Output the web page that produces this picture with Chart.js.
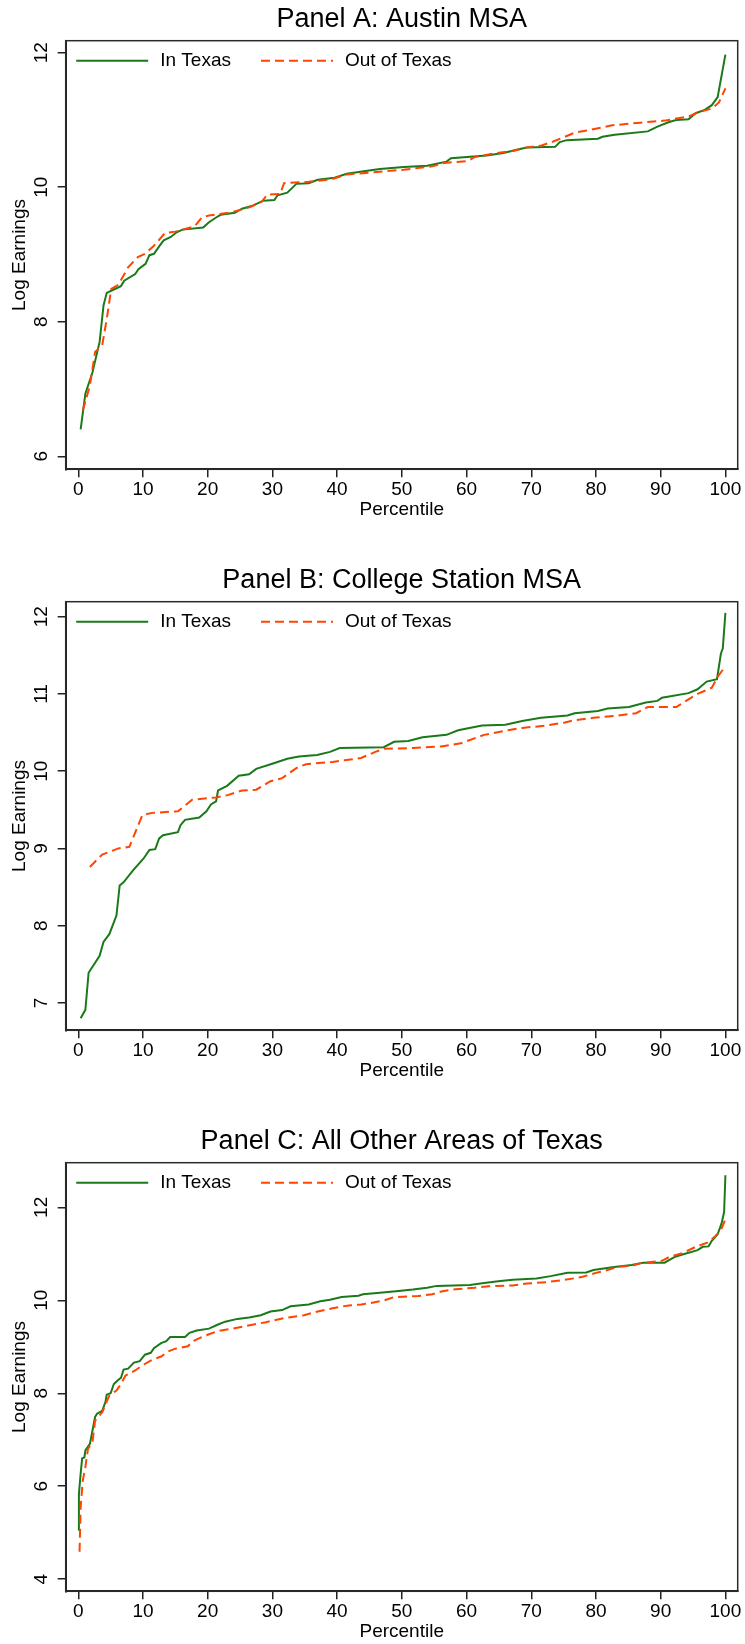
<!DOCTYPE html>
<html>
<head>
<meta charset="utf-8">
<script src="https://cdn.jsdelivr.net/npm/chart.js@4.4.1/dist/chart.umd.min.js"></script>
<style>
  body { margin: 0; background: #fff; width: 745px; height: 1644px; position: relative; overflow: hidden; }
  .panel { position: absolute; left: 0; width: 745px; height: 521px; }
</style>
</head>
<body>
<div class="panel" style="top:0px"><canvas id="chartA"></canvas></div>
<div class="panel" style="top:561px"><canvas id="chartB"></canvas></div>
<div class="panel" style="top:1122px"><canvas id="chartC"></canvas></div>
<script>
/* DATA */
const seriesLabels = ["In Texas", "Out of Texas"];
const xTicks = [0, 10, 20, 30, 40, 50, 60, 70, 80, 90, 100];

// Panel A: Austin MSA
const pctAIn = [0.37,1.1,2.2,3.3,3.9,4.4,5.5,6.6,7.1,8.8,9.3,10.4,11,11.7,12.5,13.2,14.3,15.2,16.1,19.3,20.2,21.3,22,24.2,25.3,26.8,28.6,30.3,30.8,32.3,33.7,35.6,37,39.6,41.5,44.4,46.6,50.3,53.9,56.9,57.6,63.1,65.7,67.9,69.3,73.7,74.4,75.5,80.3,81,82.9,88,89.5,91.3,92.4,94.3,95.4,96.8,97.9,98.8,100];
const earnAIn = [6.40,6.93,7.25,7.70,8.24,8.43,8.48,8.53,8.61,8.71,8.78,8.86,8.99,9.01,9.12,9.21,9.26,9.33,9.37,9.40,9.48,9.55,9.59,9.62,9.68,9.72,9.80,9.81,9.88,9.92,10.05,10.06,10.11,10.14,10.20,10.24,10.27,10.30,10.32,10.38,10.43,10.47,10.51,10.56,10.59,10.60,10.67,10.70,10.72,10.75,10.78,10.83,10.90,10.97,11.00,11.01,11.10,11.15,11.22,11.34,11.97];
const pctAOut = [0.7,1.8,2.6,3.7,4.4,5.1,6.2,7.7,9.2,10.3,11.7,13.4,15,16.5,18,19.1,20.2,23.8,26.4,28.3,29.2,31.2,31.8,35.6,39.2,41.5,46.6,50.3,54.7,56.5,60.2,61.3,64.2,67.2,69.3,71.6,73.4,75.2,76.7,78.9,82.5,86.9,90.6,94.3,95.7,97.9,99,100];
const earnAOut = [6.68,7.05,7.55,7.65,8.04,8.49,8.55,8.81,8.96,9.01,9.13,9.32,9.34,9.38,9.42,9.55,9.58,9.63,9.70,9.78,9.89,9.90,10.06,10.08,10.12,10.19,10.23,10.26,10.31,10.36,10.39,10.45,10.50,10.54,10.59,10.62,10.68,10.75,10.81,10.85,10.92,10.96,10.99,11.05,11.11,11.17,11.26,11.47];
const yTicksA = [6, 8, 10, 12];

// Panel B: College Station MSA
const pctBIn = [0.37,1.1,1.6,3.3,3.9,4.8,5.9,6.4,7.0,8.4,10.1,11,11.9,12.5,13.1,15.4,15.8,16.5,18.7,19.8,20.5,21.3,21.6,23,24.8,26.4,27.5,30.1,32.3,34.1,36.9,38.9,40.4,47.2,48.8,51,53.2,56.9,58.7,62.4,66,68.6,71.5,75.6,76.7,80.3,81.8,85.1,87.7,89.5,90.2,94.3,95.7,97.1,98.7,99.3,99.6,100];
const earnBIn = [6.80,6.91,7.39,7.61,7.79,7.89,8.13,8.52,8.56,8.71,8.87,8.98,8.99,9.13,9.17,9.21,9.30,9.37,9.40,9.48,9.57,9.61,9.75,9.81,9.94,9.96,10.03,10.10,10.16,10.19,10.21,10.25,10.30,10.31,10.38,10.39,10.44,10.47,10.53,10.59,10.60,10.65,10.69,10.72,10.75,10.78,10.81,10.83,10.89,10.91,10.95,11.01,11.06,11.16,11.19,11.52,11.59,12.05];
const pctBOut = [1.8,3.7,6.2,7.9,9.9,11.4,15.4,17.6,21.3,23.1,25.3,27.5,29.7,31.5,33.7,35.2,39.3,41.1,43.7,45.9,47.3,51.7,56.1,59.1,62.7,66.4,68.6,72.3,75.2,76.7,79.6,83.3,86.2,88,92.4,94.3,95.7,97.9,98.8,100];
const earnBOut = [8.76,8.92,9.00,9.02,9.43,9.46,9.48,9.63,9.66,9.69,9.75,9.76,9.87,9.91,10.04,10.09,10.12,10.14,10.17,10.25,10.29,10.30,10.32,10.36,10.47,10.53,10.56,10.59,10.63,10.66,10.69,10.72,10.75,10.83,10.83,10.93,11.00,11.08,11.22,11.36];
const yTicksB = [7, 8, 9, 10, 11, 12];

// Panel C: All Other Areas of Texas
const pctCIn = [0.0,0.1,0.37,0.6,0.95,1.1,1.8,2.2,2.6,2.9,3.7,4.2,4.4,5,5.5,6.2,6.6,7,7.7,8.6,9.5,10.3,11.2,11.7,12.8,13.6,14.2,16.5,17.2,18.3,20.2,21.6,22.7,24.6,26.4,28.2,29.7,31.5,32.8,35.6,37.4,38.9,40.7,43.3,44,46.6,49.5,51.7,53.9,55.4,60.5,62.7,64.9,67.1,70.8,73,75.6,78.5,79.6,82.5,85.5,87.3,90.6,92.1,93.5,95.7,96.5,97.4,97.9,98.8,99.4,99.8,100];
const earnCIn = [5.06,5.83,6.27,6.60,6.62,6.77,6.91,7.20,7.49,7.56,7.62,7.81,7.97,8.00,8.20,8.29,8.33,8.51,8.53,8.66,8.69,8.83,8.87,8.97,9.08,9.12,9.21,9.21,9.30,9.35,9.39,9.48,9.54,9.60,9.63,9.68,9.76,9.79,9.87,9.91,9.98,10.01,10.07,10.10,10.13,10.16,10.20,10.23,10.27,10.31,10.33,10.37,10.41,10.44,10.47,10.52,10.59,10.60,10.65,10.71,10.76,10.81,10.81,10.93,10.99,11.08,11.15,11.16,11.28,11.42,11.65,11.90,12.69];
const pctCOut = [0.2,0.37,0.7,1.1,1.5,2.2,2.6,3.7,4.8,5.9,6.6,7.3,8.8,9.9,11.4,12.8,13.9,15,16.9,18,19.1,20.2,21.6,23.8,26,29,31.9,34.9,37,39.3,41.8,43.7,45.2,47.3,48.8,52.5,54.7,56.1,58.3,61.3,63.4,67.1,69.3,72.3,75.2,77.8,80,81.8,83.3,85.5,86.9,90.2,91.3,93.5,95.4,97.2,98.3,99.3,100];
const earnCOut = [4.59,5.55,6.12,6.41,6.80,6.95,7.41,7.59,7.95,8.06,8.20,8.38,8.49,8.60,8.72,8.79,8.90,8.96,9.01,9.14,9.21,9.27,9.34,9.39,9.45,9.53,9.62,9.68,9.76,9.83,9.89,9.91,9.94,10.00,10.07,10.09,10.13,10.19,10.24,10.27,10.30,10.32,10.36,10.39,10.44,10.50,10.59,10.65,10.72,10.74,10.80,10.85,10.93,11.02,11.15,11.24,11.36,11.51,11.74];
const yTicksC = [4, 6, 8, 10, 12];

/* STYLE */
const GREEN = "#1a7a1a";
const ORANGE = "#ff4500";
const FONT = "'Liberation Sans', Arial, Helvetica, sans-serif";
Chart.defaults.font.family = FONT;
Chart.defaults.color = "#000";

function points(pct, earn) {
  return pct.map((p, i) => ({ x: p, y: earn[i] }));
}

/* legend drawn inside the plot region, top-left */
const insideLegend = {
  id: "insideLegend",
  afterDraw(chart) {
    const { ctx, chartArea } = chart;
    let x = chartArea.left + 10.5;
    const y = chartArea.top + 20;
    ctx.save();
    ctx.font = "19px " + FONT;
    ctx.textBaseline = "middle";
    chart.data.datasets.forEach(ds => {
      ctx.strokeStyle = ds.borderColor;
      ctx.lineWidth = ds.borderWidth;
      ctx.setLineDash(ds.borderDash || []);
      ctx.beginPath();
      ctx.moveTo(x, y);
      ctx.lineTo(x + 72, y);
      ctx.stroke();
      ctx.setLineDash([]);
      ctx.fillStyle = "#000";
      ctx.fillText(ds.label, x + 84, y);
      x += 84 + ctx.measureText(ds.label).width + 30;
    });
    ctx.restore();
  }
};

/* box round the plot region */
const frame = {
  id: "frame",
  afterDatasetsDraw(chart) {
    const { ctx, chartArea: a } = chart;
    ctx.save();
    ctx.strokeStyle = "#2a2a2a";
    ctx.lineWidth = 1.5;
    ctx.strokeRect(a.left, a.top, a.right - a.left, a.bottom - a.top);
    ctx.restore();
  }
};

/* RENDER */
function renderPanel(id, title, inPts, outPts, yMin, yMax, yTicks) {
  new Chart(document.getElementById(id), {
    type: "line",
    data: {
      datasets: [
        { label: seriesLabels[0], data: inPts, borderColor: GREEN, borderWidth: 2, pointRadius: 0, tension: 0, order: 1 },
        { label: seriesLabels[1], data: outPts, borderColor: ORANGE, borderWidth: 2, borderDash: [9, 5], pointRadius: 0, tension: 0, order: 0 }
      ]
    },
    options: {
      responsive: true,
      maintainAspectRatio: false,
      animation: false,
      layout: { padding: { left: 0, right: 7.3, top: 0, bottom: 0 } },
      plugins: {
        legend: { display: false },
        tooltip: { enabled: false },
        title: {
          display: true, text: title, fullSize: false, color: "#000",
          font: { size: 27, weight: "normal" },
          padding: { top: 3.5, bottom: 4.8 }
        }
      },
      scales: {
        x: {
          type: "linear", min: -1.94, max: 101.9,
          afterBuildTicks: s => { s.ticks = xTicks.map(v => ({ value: v })); },
          afterFit: s => { s.height = 51.7; },
          grid: { drawOnChartArea: false, drawTicks: true, tickLength: 8, color: "#222", lineWidth: 1.5 },
          border: { display: true, color: "#222", width: 2 },
          ticks: { padding: 0.6, autoSkip: false, maxRotation: 0, font: { size: 19 }, color: "#000" },
          title: { display: true, text: "Percentile", font: { size: 19 }, color: "#000", padding: { top: 0, bottom: 0 } }
        },
        y: {
          type: "linear", min: yMin, max: yMax,
          afterBuildTicks: s => { s.ticks = yTicks.map(v => ({ value: v })); },
          afterFit: s => { s.width = 65.7; },
          grid: { drawOnChartArea: false, drawTicks: true, tickLength: 8, color: "#222", lineWidth: 1.5 },
          border: { display: true, color: "#222", width: 2 },
          ticks: { minRotation: 90, maxRotation: 90, crossAlign: "center", padding: 5.2, autoSkip: false, font: { size: 19 }, color: "#000" },
          title: { display: true, text: "Log Earnings", font: { size: 19 }, color: "#000", padding: { top: 8.6, bottom: 0 } }
        }
      }
    },
    plugins: [frame, insideLegend]
  });
}

/* INIT */
renderPanel("chartA", "Panel A: Austin MSA", points(pctAIn, earnAIn), points(pctAOut, earnAOut), 5.807, 12.178, yTicksA);
renderPanel("chartB", "Panel B: College Station MSA", points(pctBIn, earnBIn), points(pctBOut, earnBOut), 6.645, 12.194, yTicksB);
renderPanel("chartC", "Panel C: All Other Areas of Texas", points(pctCIn, earnCIn), points(pctCOut, earnCOut), 3.74, 12.96, yTicksC);
</script>
</body>
</html>
